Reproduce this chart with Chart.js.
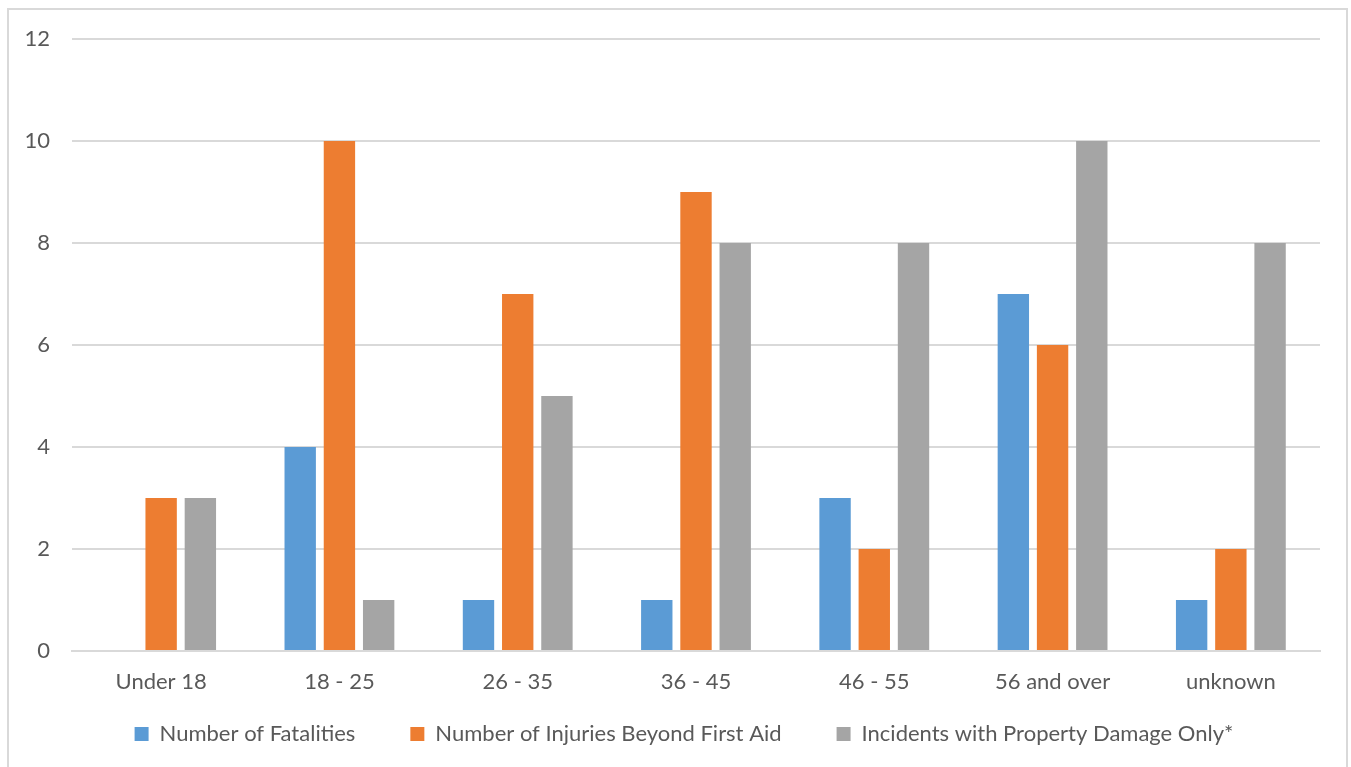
<!DOCTYPE html>
<html lang="en">
<head>
    <meta charset="UTF-8">
    <title>Incidents by Age Group</title>
    <script src="https://cdn.jsdelivr.net/npm/chart.js"></script>
    <style>
        html, body { margin: 0; padding: 0; background: #fff; overflow: hidden; }
        #frame {
            position: absolute; left: 7px; top: 8px; width: 1341px; height: 800px;
            border: 2px solid #d9d9d9; box-sizing: border-box;
        }
        #wrap { position: absolute; left: 0; top: 0; width: 1351px; height: 767px; }
    </style>
</head>
<body>
    <div id="frame"></div>
    <div id="wrap"><canvas id="chart" width="1351" height="767"></canvas></div>

    <script>
        const ageGroups = ["Under 18", "18 - 25", "26 - 35", "36 - 45", "46 - 55", "56 and over", "unknown"];
        const fatalities = [0, 4, 1, 1, 3, 7, 1];
        const injuries = [3, 10, 7, 9, 2, 6, 2];
        const propertyDamage = [3, 1, 5, 8, 8, 10, 8];
        const seriesNames = ["Number of Fatalities", "Number of Injuries Beyond First Aid", "Incidents with Property Damage Only*"];

        const textColor = "#595959";
        const gridColor = "#d9d9d9";
        const fontFamily = "Lato, 'Open Sans', sans-serif";

        function makeSet(label, data, color) {
            return {
                label: label,
                data: data,
                backgroundColor: color,
                borderWidth: 0,
                categoryPercentage: 0.66,
                barPercentage: 0.8
            };
        }

        // the legend gap between items is wide, so nudge the legend box back up under the labels
        const legendNudge = {
            id: "legendNudge",
            afterLayout(chart) {
                const lg = chart.legend;
                lg.top -= 33; lg.bottom -= 33;
                lg.left += 24; lg.right += 24;
            }
        };

        new Chart(document.getElementById("chart"), {
            type: "bar",
            data: {
                labels: ageGroups,
                datasets: [
                    makeSet(seriesNames[0], fatalities, "#5b9bd5"),
                    makeSet(seriesNames[1], injuries, "#ed7d31"),
                    makeSet(seriesNames[2], propertyDamage, "#a5a5a5")
                ]
            },
            plugins: [legendNudge],
            options: {
                responsive: false,
                animation: false,
                layout: { padding: { left: 0, right: 31, top: 39, bottom: -21 } },
                plugins: {
                    tooltip: { enabled: false },
                    legend: {
                        position: "bottom",
                        labels: {
                            color: textColor,
                            font: { family: fontFamily, size: 22 },
                            boxWidth: 14,
                            boxHeight: 14,
                            padding: 55
                        }
                    }
                },
                scales: {
                    x: {
                        grid: { display: false },
                        border: { color: gridColor, width: 2 },
                        ticks: {
                            color: textColor,
                            font: { family: fontFamily, size: 22 },
                            padding: 10,
                            maxRotation: 0
                        },
                        afterFit: s => { s.height = 50; }
                    },
                    y: {
                        min: 0,
                        max: 12,
                        ticks: {
                            stepSize: 2,
                            color: textColor,
                            font: { family: fontFamily, size: 22 },
                            padding: 22
                        },
                        grid: { color: gridColor, lineWidth: 2, drawTicks: false },
                        border: { display: false },
                        afterFit: s => { s.width = 72; }
                    }
                }
            }
        });
    </script>
</body>
</html>
